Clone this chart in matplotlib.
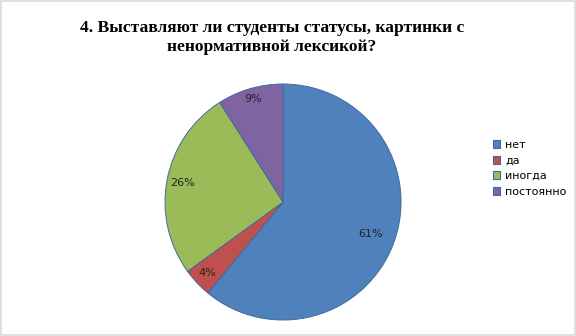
import matplotlib
matplotlib.use("Agg")
import matplotlib.pyplot as plt
import numpy as np
from matplotlib.patches import Rectangle

categories = ["нет", "да", "иногда", "постоянно"]
values = [61, 4, 26, 9]
colors = ["#4F81BD", "#C0504D", "#9BBB59", "#8064A2"]
title = "4. Выставляют ли студенты статусы, картинки с\nненормативной лексикой?"

# per-slice label distance from the centre (fraction of radius)
label_dist = [0.79, 0.88, 0.87, 0.91]

fig = plt.figure(figsize=(5.76, 3.36), dpi=100)
fig.patches.append(Rectangle((0.002, 0.003), 0.996, 0.994, transform=fig.transFigure,
                             fill=False, edgecolor="#d9d9d9", linewidth=1.2))

fig.text(0.472, 0.94, title, ha="center", va="top", fontsize=12.6, fontweight="bold",
         family="Liberation Serif", linespacing=1.25)

ax = fig.add_axes([0.2865, 0.0476, 0.4097, 0.7024])
wedges, texts, autotexts = ax.pie(values, colors=colors, startangle=90, counterclock=False,
                                  autopct="%d%%", pctdistance=0.85,
                                  wedgeprops=dict(edgecolor="#3f6a9c", linewidth=0.7),
                                  textprops=dict(fontsize=8, family="DejaVu Sans", color="#222222"))
for w, t, d in zip(wedges, autotexts, label_dist):
    ang = np.deg2rad((w.theta1 + w.theta2) / 2)
    t.set_position((d * np.cos(ang), d * np.sin(ang)))
ax.set_xlim(-1, 1)
ax.set_ylim(-1, 1)
ax.set_aspect("equal")

handles = [Rectangle((0, 0), 1, 1, facecolor=c, edgecolor="#3f6a9c", linewidth=0.8) for c in colors]
fig.legend(handles, categories, loc="upper left", bbox_to_anchor=(0.838, 0.613), frameon=False,
           handlelength=0.7, handleheight=0.7, handletextpad=0.45, labelspacing=0.5,
           prop=dict(family="DejaVu Sans", size=8))

fig.savefig("out.png", dpi=100)
